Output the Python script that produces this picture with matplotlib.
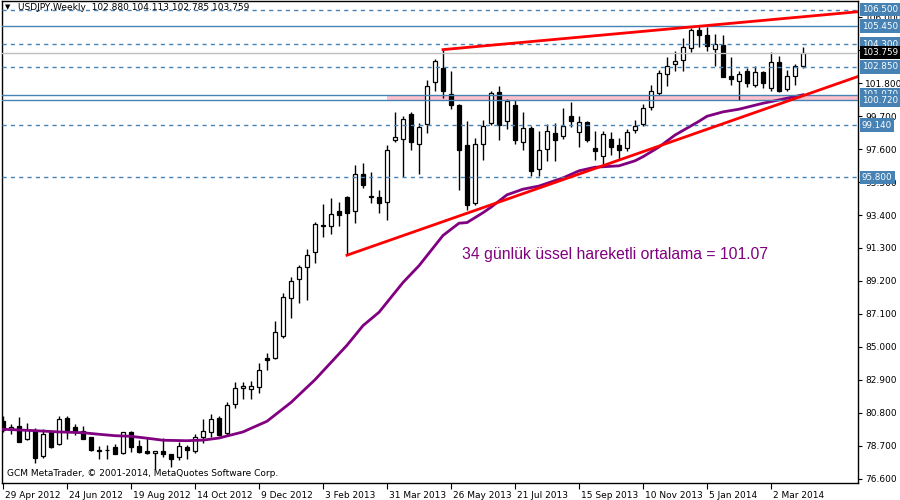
import numpy as np
import matplotlib
matplotlib.use('Agg')
import matplotlib.pyplot as plt
import matplotlib.transforms as mtransforms
from matplotlib.patches import Rectangle

# weekly USDJPY candles, 29 Apr 2012 .. 30 Mar 2014
opens = [80.29, 79.78, 79.95, 79.10, 79.68, 78.06, 79.59, 78.78, 80.44, 79.89,
         79.61, 79.23, 78.42, 78.40, 78.59, 78.21, 79.55, 78.67, 78.35, 78.23,
         78.35, 78.16, 77.95, 78.61, 78.37, 79.23, 79.59, 80.48, 79.48, 81.34,
         82.36, 82.33, 82.46, 84.27, 84.31, 85.71, 88.10, 89.31, 90.08, 91.04,
         92.76, 92.69, 93.67, 94.56, 93.63, 96.01, 94.63, 94.56, 94.26, 98.18,
         98.25, 99.86, 97.93, 99.20, 101.88, 102.78, 101.12, 100.43, 97.88, 94.14,
         97.93, 99.27, 101.25, 99.37, 100.43, 98.05, 98.95, 96.33, 97.61, 98.63,
         98.41, 99.73, 98.69, 99.31, 97.67, 97.18, 98.25, 97.88, 97.67, 98.80,
         99.20, 100.29, 101.18, 102.41, 103.03, 103.26, 104.05, 105.22, 104.90, 103.99,
         104.27, 102.29, 101.98, 102.60, 101.67, 102.52, 101.50, 103.16, 101.44, 102.24,
         102.880]
highs = [80.59, 80.06, 80.52, 80.14, 79.80, 79.74, 79.70, 80.59, 80.59, 80.08,
         79.95, 79.27, 78.67, 78.74, 78.78, 79.59, 79.63, 79.06, 79.23, 78.36,
         79.17, 78.17, 78.91, 78.74, 79.44, 80.40, 80.70, 80.59, 81.46, 82.78,
         82.78, 82.82, 83.95, 84.59, 86.65, 88.42, 89.46, 90.22, 91.25, 92.95,
         94.12, 94.48, 94.23, 94.60, 96.61, 96.72, 96.16, 95.01, 97.88, 99.98,
         99.69, 99.94, 99.27, 102.03, 103.35, 103.95, 102.56, 100.45, 99.37, 98.31,
         99.48, 101.28, 101.60, 100.80, 100.75, 99.98, 99.05, 98.73, 99.20, 99.27,
         100.22, 100.61, 99.69, 99.41, 98.73, 98.73, 98.67, 98.31, 98.90, 99.48,
         100.50, 101.71, 102.67, 103.45, 103.88, 104.69, 105.30, 105.48, 105.40, 104.95,
         104.90, 103.45, 102.56, 102.78, 102.88, 102.56, 103.80, 103.52, 102.67, 103.03,
         104.113]
lows = [79.57, 79.42, 78.93, 79.06, 77.61, 77.93, 78.57, 78.74, 79.10, 79.38,
        79.10, 78.35, 77.84, 77.84, 78.14, 78.14, 78.29, 78.25, 78.16, 77.19,
        77.99, 77.35, 77.78, 77.83, 78.25, 78.88, 79.23, 79.31, 79.38, 81.08,
        81.65, 81.69, 82.08, 83.52, 84.23, 85.59, 86.82, 87.78, 87.99, 90.33,
        91.97, 92.22, 92.73, 90.84, 92.92, 95.12, 94.20, 93.50, 93.10, 98.09,
        95.82, 97.52, 96.03, 98.63, 101.28, 100.86, 100.16, 94.97, 93.74, 94.05,
        96.93, 99.16, 98.20, 98.88, 97.95, 97.56, 95.86, 95.86, 96.82, 96.82,
        98.27, 98.99, 97.77, 98.03, 96.93, 96.61, 97.24, 96.93, 97.46, 98.63,
        99.05, 100.10, 101.07, 101.60, 102.56, 102.56, 103.80, 104.09, 103.84, 102.88,
        102.20, 101.71, 100.75, 101.56, 101.54, 101.50, 101.28, 101.25, 101.28, 101.71,
        102.785]
closes = [79.70, 79.91, 78.95, 79.70, 77.93, 79.42, 78.63, 80.38, 79.70, 79.63,
          79.14, 78.42, 78.37, 78.44, 78.18, 79.55, 78.63, 78.31, 78.21, 78.35,
          78.14, 77.86, 78.67, 78.40, 79.23, 79.63, 80.38, 79.38, 81.29, 82.36,
          82.50, 82.48, 83.50, 84.18, 85.93, 88.18, 89.20, 90.08, 90.84, 92.84,
          92.69, 93.48, 93.40, 93.56, 96.01, 95.29, 94.55, 94.14, 97.56, 98.37,
          99.52, 98.03, 99.01, 101.65, 103.22, 101.28, 100.43, 97.52, 94.05, 97.93,
          99.11, 101.18, 99.16, 100.69, 98.20, 98.95, 96.24, 97.56, 98.73, 98.16,
          99.11, 99.37, 99.33, 98.20, 97.46, 98.58, 97.77, 97.56, 98.69, 99.10,
          100.22, 101.33, 102.46, 102.88, 103.24, 104.12, 105.22, 104.86, 104.16, 104.31,
          102.22, 102.08, 102.39, 101.82, 102.52, 101.82, 103.16, 101.33, 102.29, 102.88,
          103.759]

# 34 EMA as drawn on the chart (bar index, value)
ema_bars = [0, 4, 7, 10, 12, 14, 16, 18, 20, 23, 25, 27, 28, 30, 31, 33, 36, 39, 41, 43,
            45, 47, 50, 52, 55, 57, 58, 60, 61, 63, 65, 67, 70, 72, 74, 77, 79, 80, 82, 84,
            87, 88, 90, 92, 95, 97, 100]
ema_vals = [79.74, 79.65, 79.57, 79.52, 79.42, 79.33, 79.29, 79.17, 79.04, 79.01,
            79.05, 79.18, 79.31, 79.57, 79.80, 80.25, 81.45, 82.90, 84.00, 85.10,
            86.35, 87.20, 89.10, 90.17, 92.10, 92.88, 92.92, 93.55, 93.90, 94.69,
            95.05, 95.25, 95.77, 96.22, 96.45, 96.54, 96.86, 97.12, 97.74, 98.50,
            99.38, 99.70, 99.98, 100.15, 100.53, 100.74, 101.07]

# trend lines: two anchor points each (bar, price)
upper_line = [(55, 103.95), (87, 105.44)]
lower_line = [(43, 90.84), (100, 101.01)]

solid_levels = [105.450, 101.070, 100.720]
dashed_levels = [106.500, 104.300, 102.850, 99.140, 95.800]
last_price = 103.759
band = (48, 100.720, 101.070)

date_labels = ['29 Apr 2012', '24 Jun 2012', '19 Aug 2012', '14 Oct 2012', '9 Dec 2012',
               '3 Feb 2013', '31 Mar 2013', '26 May 2013', '21 Jul 2013', '15 Sep 2013',
               '10 Nov 2013', '5 Jan 2014', '2 Mar 2014']
y_ticks = [76.6, 78.7, 80.8, 82.9, 85.0, 87.1, 89.2, 91.3, 93.4, 95.5, 97.6, 99.7,
           101.8, 103.9, 106.0]

plt.rcParams['font.family'] = 'DejaVu Sans'
fig = plt.figure(figsize=(9, 5), dpi=100)
ax = fig.add_axes([2/900, 1 - 482.5/500, 856/900, 481.5/500])
x0, x1 = -0.125, 106.875
ax.set_xlim(x0, x1)
ax.set_ylim(76.345, 107.05)

blue = '#4682B4'
ax.add_patch(Rectangle((band[0], band[1]), x1 - band[0], band[2] - band[1],
                       facecolor='#FFC0CB', edgecolor='none', zorder=1))

x = np.arange(len(opens))
o = np.array(opens); c = np.array(closes)
ax.vlines(x, lows, highs, color='black', lw=1, zorder=3)
up = c >= o
ax.bar(x[up], np.maximum(c - o, 0.02)[up], bottom=o[up], width=0.62,
       color='white', edgecolor='black', lw=0.9, zorder=4)
ax.bar(x[~up], (o - c)[~up], bottom=c[~up], width=0.62,
       color='black', edgecolor='black', lw=0.9, zorder=4)

ax.plot(ema_bars, ema_vals, color='#800080', lw=2, zorder=5)

for (ax_, ay), (bx, by) in [upper_line, lower_line]:
    slope = (by - ay) / (bx - ax_)
    ax.plot([ax_, x1], [ay, ay + slope * (x1 - ax_)], color='#FF0000', lw=2, zorder=6)

for lv in solid_levels:
    ax.axhline(lv, color=blue, lw=1, zorder=5)
for lv in dashed_levels:
    ax.axhline(lv, color=blue, lw=1, ls=(0, (3, 3)), zorder=5)
ax.axhline(last_price, color='#C0C0C0', lw=1, zorder=5)

ax.text(57.34, 90.58, '34 günlük üssel hareketli ortalama = 101.07', color='#800080',
        fontsize=11.3, family='Liberation Sans', va='baseline', ha='left', zorder=7)

# axes, ticks
for s in ax.spines.values():
    s.set_color('black'); s.set_linewidth(1)
ax.yaxis.tick_right()
ax.set_yticks(y_ticks)
# 103.900 sits under the price boxes and is not shown
ax.set_yticklabels(['' if v == 103.9 else '%.3f' % v for v in y_ticks])
ax.tick_params(axis='y', direction='out', length=3, pad=2, labelsize=6.5, colors='black')
ax.set_xticks(range(0, 97, 8))
ax.set_xticklabels(date_labels)
ax.tick_params(axis='x', direction='out', length=4, pad=2, labelsize=6.5, colors='black')
off = mtransforms.ScaledTranslation(2/100, 0, fig.dpi_scale_trans)
for lab in ax.get_xticklabels():
    lab.set_horizontalalignment('left')
    lab.set_transform(lab.get_transform() + off)

trans = ax.get_yaxis_transform()
box_levels = [(106.500, blue), (105.450, blue), (104.300, blue), (last_price, 'black'),
              (102.850, blue), (101.070, blue), (100.720, blue), (99.140, blue), (95.800, blue)]
for lv, col in box_levels:
    ax.annotate('%.3f' % lv, xy=(1, lv), xycoords=trans, xytext=(4, 0),
                textcoords='offset pixels', ha='left', va='center', fontsize=6.3,
                color='white', annotation_clip=False, zorder=10,
                bbox=dict(boxstyle='square,pad=0.25', fc=col, ec='none'))

fig.text(18/900, 1 - 7/500, 'USDJPY,Weekly  102.880 104.113 102.785 103.759',
         fontsize=6.5, va='center', ha='left', color='black')
fig.text(5/900, 1 - 7/500, '▼', fontsize=5, va='center', ha='left', color='black')
fig.text(7/900, 1 - 473/500, 'GCM MetaTrader, © 2001-2014, MetaQuotes Software Corp.',
         fontsize=6.5, va='center', ha='left', color='black')

fig.savefig('out.png', dpi=100)
